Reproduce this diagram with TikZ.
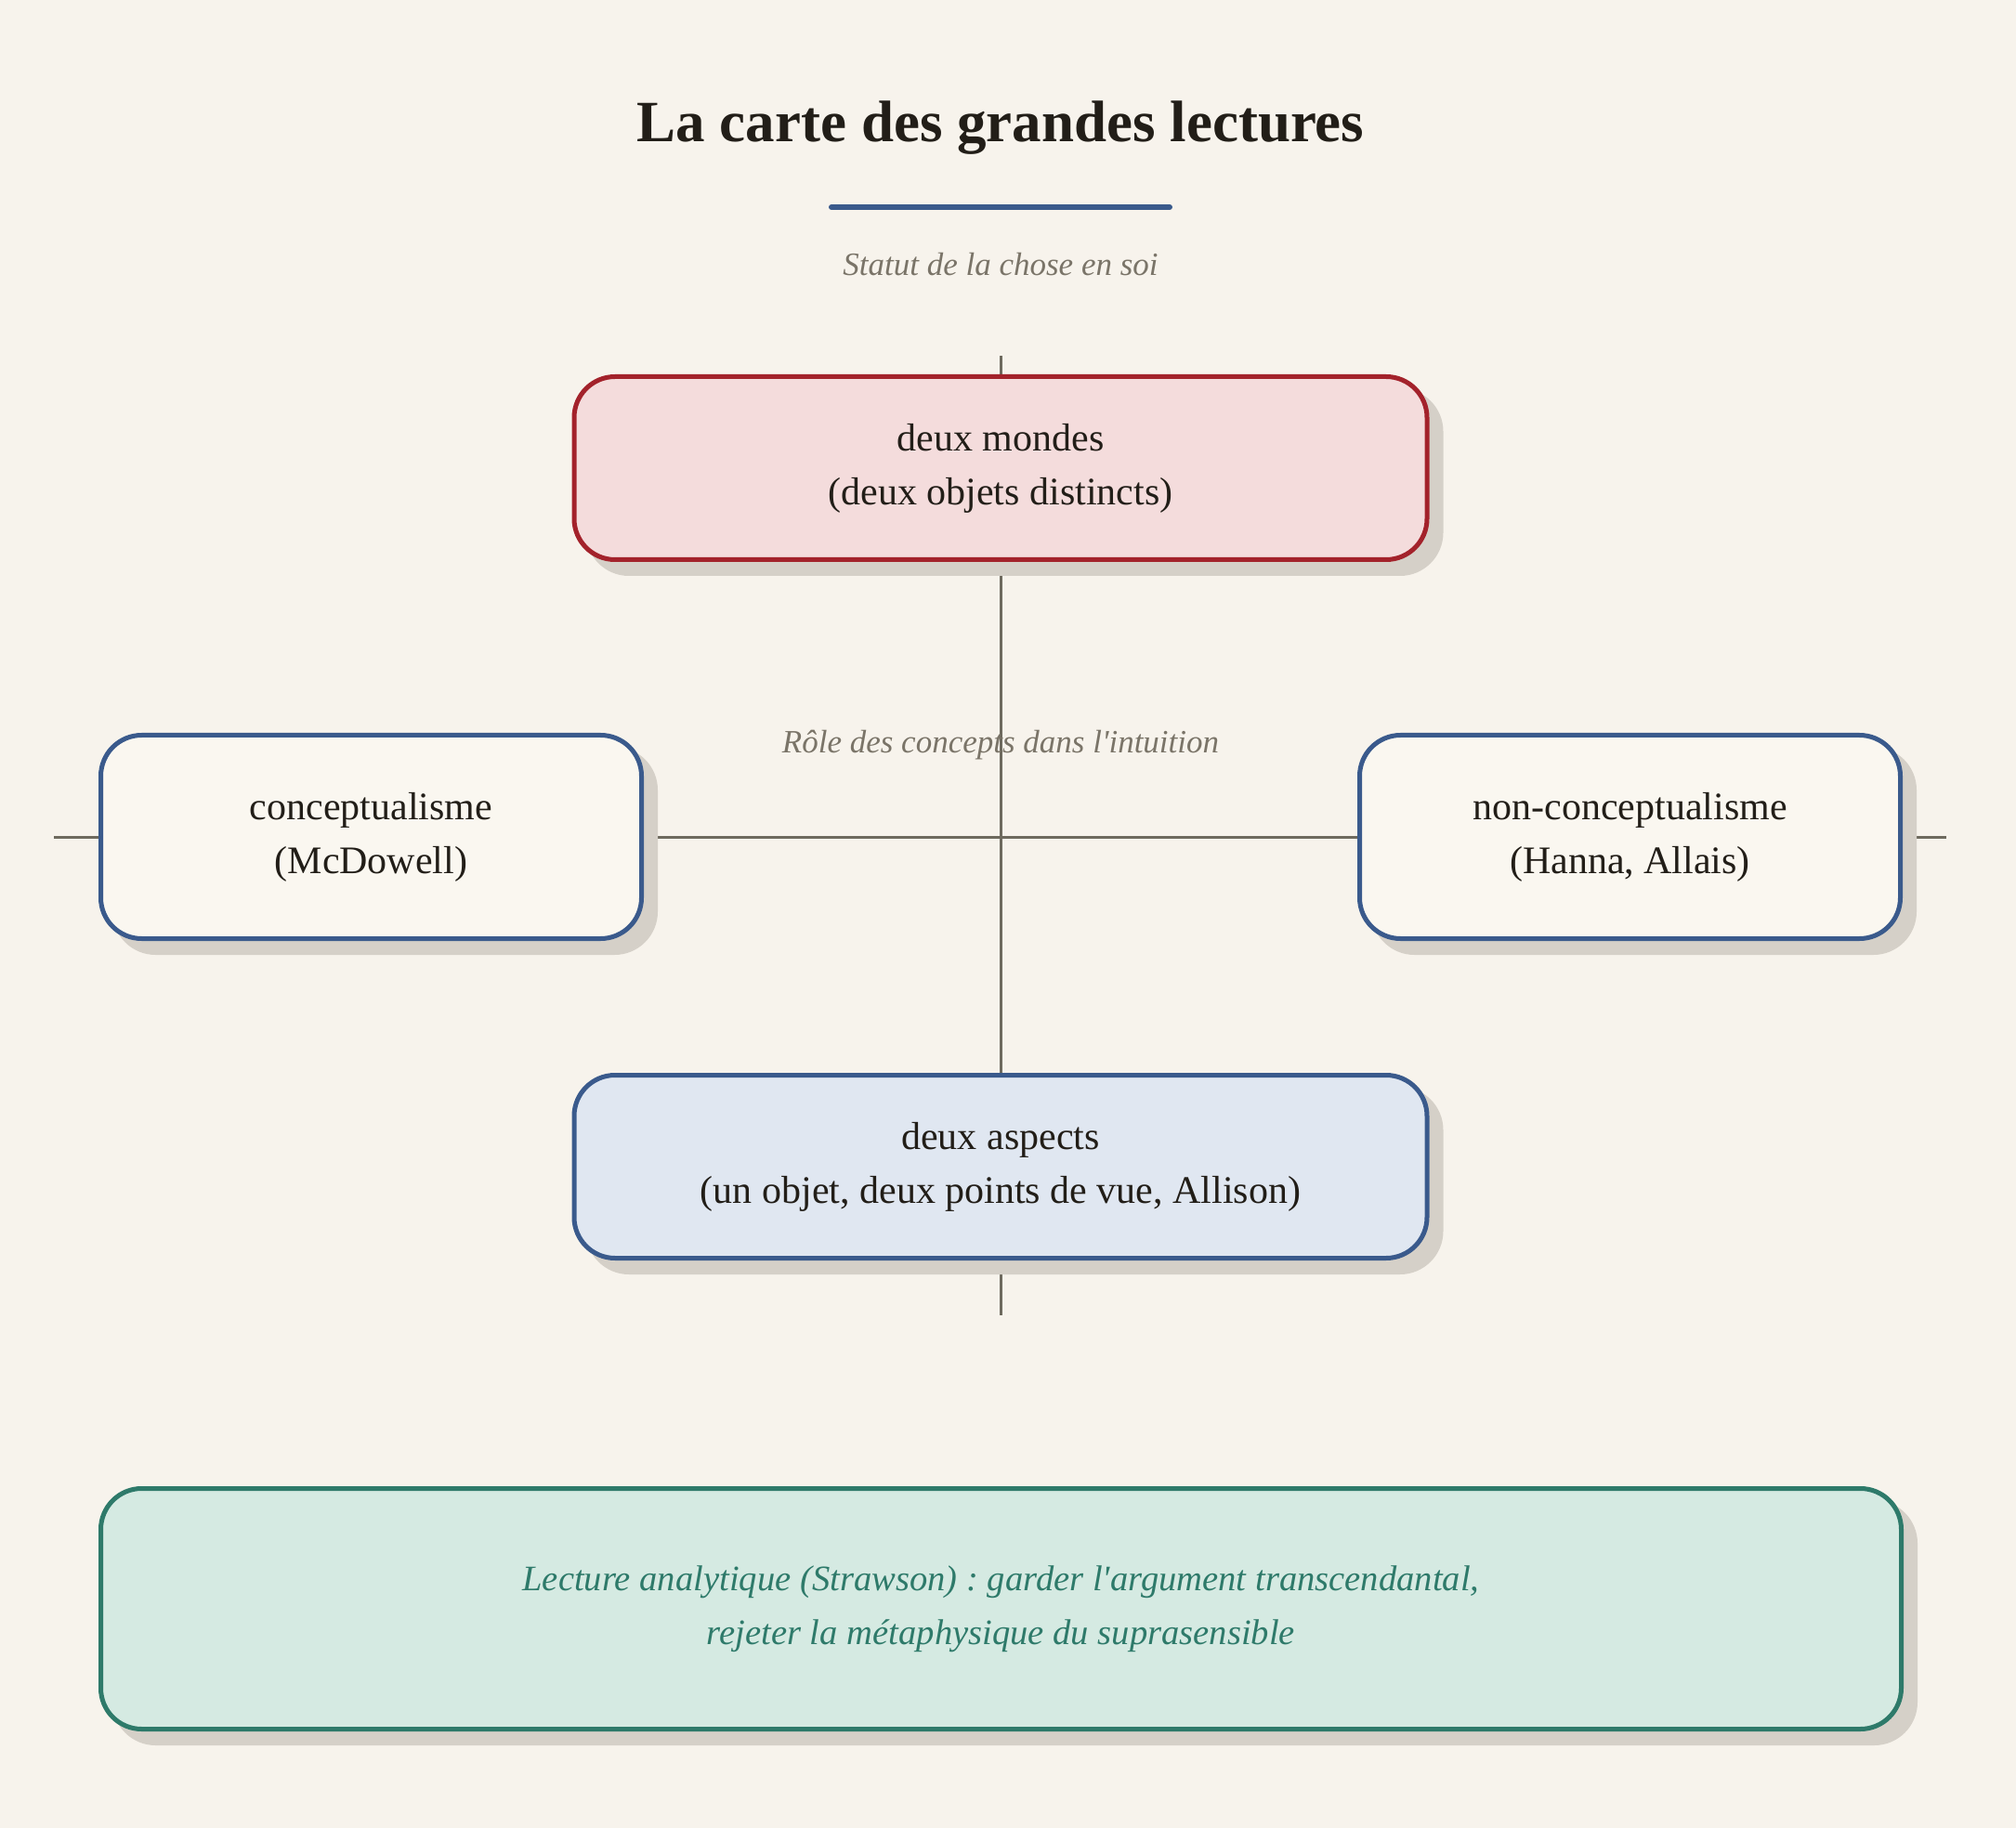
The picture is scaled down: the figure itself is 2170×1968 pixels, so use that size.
\documentclass[tikz,border=0pt]{standalone}
\usepackage{fontspec}
\setmainfont{Liberation Serif}
\usetikzlibrary{shadows}
\definecolor{bg}{HTML}{F7F3EC}
\definecolor{ink}{HTML}{221E18}
\definecolor{muted}{HTML}{7A7468}
\definecolor{axisc}{HTML}{6E6A5E}
\definecolor{blueb}{HTML}{3A5A8C}
\definecolor{redb}{HTML}{A3222B}
\definecolor{redf}{HTML}{F4DCDC}
\definecolor{bluef}{HTML}{E0E7F1}
\definecolor{creamf}{HTML}{FAF7F0}
\definecolor{greenb}{HTML}{2E7A6A}
\definecolor{greenf}{HTML}{D5EAE2}
\definecolor{shadowc}{HTML}{D5D0C8}
\frenchspacing
\begin{document}
\begin{tikzpicture}[x=0.5pt,y=-0.5pt,
  card/.style={draw, rounded corners=22pt, line width=2.5pt, inner sep=0pt,
    align=center, text=ink, font=\fontsize{21}{29}\selectfont,
    drop shadow={shadow xshift=7.5pt, shadow yshift=-7.5pt, fill=shadowc,
      draw=shadowc, line width=2.5pt, opacity=1}},
  bigcard/.style={card, minimum width=459pt, minimum height=98.5pt},
  sidecard/.style={card, minimum width=291pt, minimum height=109.5pt, draw=blueb, fill=creamf},
  axislabel/.style={text=muted, font=\fontsize{17.5}{21}\selectfont\itshape, anchor=base, inner sep=0pt},
  axisline/.style={draw=axisc, line width=1.5pt}
]
\useasboundingbox[fill=bg] (0,0) rectangle (2170,1968);

% title
\node[anchor=base, text=ink, font=\fontsize{31.5}{36}\selectfont\bfseries, inner sep=0pt] (title) at (1077,153) {La carte des grandes lectures};
\coordinate (ruleL) at (895,223);
\coordinate (ruleR) at (1259,223);
\draw[blueb, line width=3pt, line cap=round] (ruleL) -- (ruleR);

% axes
\coordinate (vtop) at (1077,383);
\coordinate (vbot) at (1077,1416);
\coordinate (hleft) at (58,901);
\coordinate (hright) at (2095,901);
\draw[axisline] (vtop) -- (vbot);
\draw[axisline] (hleft) -- (hright);

% axis labels
\node[axislabel] (lblv) at (1077,297) {Statut de la chose en soi};
\node[axislabel] (lblh) at (1077,811) {Rôle des concepts dans l\textquotesingle intuition};

% cards
\node[bigcard, draw=redb, fill=redf] (mondes) at (1077,504) {deux mondes\\(deux objets distincts)};
\node[bigcard, draw=blueb, fill=bluef] (aspects) at (1077,1256) {deux aspects\\(un objet, deux points de vue, Allison)};
\node[sidecard] (concept) at (399.5,901) {conceptualisme\\(McDowell)};
\node[sidecard] (nonconcept) at (1754.5,901) {non-conceptualisme\\(Hanna, Allais)};
\node[card, draw=greenb, fill=greenf, text=greenb, minimum width=969pt, minimum height=129.5pt,
  font=\fontsize{19.3}{29}\selectfont\itshape] (strawson) at (1077.5,1732)
  {Lecture analytique (Strawson) : garder l\textquotesingle argument transcendantal,\\rejeter la métaphysique du suprasensible};
\end{tikzpicture}
\end{document}
